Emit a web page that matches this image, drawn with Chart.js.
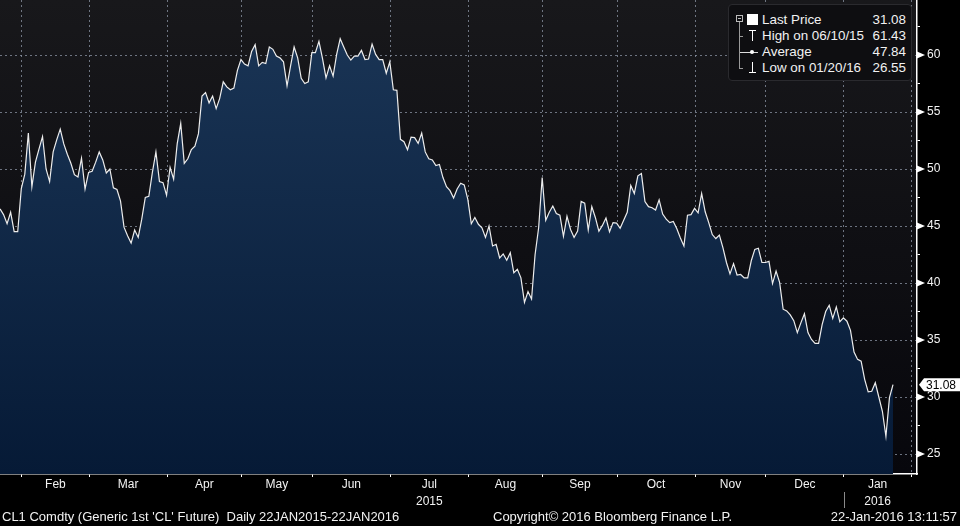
<!DOCTYPE html>
<html lang="en">

<head>
    <meta charset="UTF-8">
    <title>CL1 Comdty</title>
    <script src="https://cdn.jsdelivr.net/npm/chart.js"></script>
    <style>
        body {
            margin: 0;
            background: #000;
        }

        #wrap {
            position: relative;
            width: 960px;
            height: 526px;
            font-family: "Liberation Sans", Arial, sans-serif;
            color: #f2f2f2;
        }

        #legend {
            position: absolute;
            left: 728px;
            top: 4px;
            width: 184px;
            height: 77px;
            background: #0e0e11;
            border: 1px solid #2a2a2e;
            border-radius: 4px;
            box-sizing: border-box;
        }

        .abs {
            position: absolute;
        }

        .row {
            position: absolute;
            left: 762px;
            width: 144px;
            height: 16px;
            line-height: 16px;
            font-size: 13.4px;
            white-space: nowrap;
        }

        .row span {
            position: absolute;
            right: 0;
        }

        .foot {
            position: absolute;
            top: 509px;
            font-size: 13px;
            line-height: 16px;
            white-space: nowrap;
        }
    </style>
</head>

<body>
    <div id="wrap">
        <canvas id="cl1" width="960" height="526"></canvas>

        <div id="legend"></div>
        <!-- tree lines and symbols -->
        <div class="abs" style="left:736px;top:15px;width:5px;height:5px;border:1px solid #bbb;"></div>
        <div class="abs" style="left:738px;top:18px;width:3px;height:1px;background:#bbb;"></div>
        <div class="abs" style="left:739px;top:22px;width:0;height:47px;border-left:1px solid #999;"></div>
        <div class="abs" style="left:739px;top:36px;width:4px;height:1px;background:#999;"></div>
        <div class="abs" style="left:739px;top:68px;width:4px;height:1px;background:#999;"></div>
        <div class="abs" style="left:747px;top:14px;width:11px;height:11px;background:#fff;"></div>
        <div class="abs" style="left:749px;top:30px;width:7px;height:1px;background:#fff;"></div>
        <div class="abs" style="left:752px;top:30px;width:1px;height:11px;background:#fff;"></div>
        <div class="abs" style="left:740px;top:52px;width:18px;height:1px;background:#ddd;"></div>
        <div class="abs" style="left:750px;top:50px;width:4px;height:4px;border-radius:3px;background:#fff;"></div>
        <div class="abs" style="left:752px;top:62px;width:1px;height:11px;background:#fff;"></div>
        <div class="abs" style="left:749px;top:72px;width:7px;height:1px;background:#fff;"></div>

        <div class="row" style="top:12px;">Last Price<span>31.08</span></div>
        <div class="row" style="top:28px;">High on 06/10/15<span>61.43</span></div>
        <div class="row" style="top:44px;">Average<span>47.84</span></div>
        <div class="row" style="top:60px;">Low on 01/20/16<span>26.55</span></div>

        <div class="foot" style="left:2px;">CL1 Comdty (Generic 1st 'CL' Future)&nbsp; Daily 22JAN2015-22JAN2016</div>
        <div class="foot" style="left:493px;">Copyright© 2016 Bloomberg Finance L.P.</div>
        <div class="foot" style="right:3px;">22-Jan-2016 13:11:57</div>
    </div>

    <script>
        // daily closes, one per trading day, 22 Jan 2015 - 22 Jan 2016
        const prices = [
            // Jan 2015
            46.5, 46.0, 45.2, 46.2, 44.5, 44.5, 48.25,
            // Feb
            49.55, 53.15, 48.45, 50.6, 51.75, 52.85, 50.0, 48.9, 51.5, 52.55, 53.5, 52.2, 51.3, 50.5, 49.5, 49.3, 50.95, 48.25, 49.7,
            // Mar
            49.8, 50.6, 51.5, 50.8, 49.65, 50.0, 48.35, 48.2, 47.2, 44.9, 44.15, 43.5, 44.65, 44.0, 45.6, 47.5, 47.6, 49.7, 51.5, 48.9, 48.8, 47.7,
            // Apr
            50.15, 49.1, 52.2, 54.0, 50.5, 50.9, 51.7, 52.0, 53.1, 56.4, 56.7, 55.8, 56.4, 55.3, 56.2, 57.65, 57.2, 56.95, 57.1, 58.65, 59.6,
            // May
            59.2, 59.05, 60.3, 60.9, 59.05, 59.35, 59.25, 60.7, 60.5, 59.9, 59.75, 59.4, 57.3, 59.05, 60.7, 59.75, 57.95, 57.5, 57.65, 60.2,
            // Jun
            60.2, 61.2, 59.7, 58.0, 59.05, 58.15, 60.05, 61.43, 60.7, 60.0, 59.55, 59.9, 59.9, 60.4, 59.6, 59.65, 60.95, 60.05, 59.6, 59.6, 58.4, 59.4,
            // Jul
            56.95, 56.9, 52.6, 52.4, 51.7, 52.8, 52.75, 52.25, 53.15, 51.5, 50.9, 50.8, 50.3, 50.4, 49.25, 48.45, 48.1, 47.45, 48.25, 48.75, 48.6, 47.35,
            // Aug
            45.2, 45.75, 45.15, 44.85, 44.0, 45.0, 43.25, 43.4, 42.2, 42.55, 42.0, 42.65, 40.9, 41.2, 40.45, 38.3, 39.25, 38.6, 42.5, 44.85, 49.25,
            // Sep
            45.5, 46.2, 46.75, 46.1, 45.95, 44.1, 45.85, 44.7, 44.0, 44.55, 47.15, 47.0, 44.65, 46.7, 45.75, 44.55, 45.05, 45.7, 44.5, 45.3, 45.25,
            // Oct
            44.8, 45.5, 46.2, 48.55, 47.85, 49.4, 49.6, 47.15, 46.7, 46.6, 46.4, 47.3, 46.05, 45.6, 45.3, 45.4, 44.75, 43.95, 43.25, 45.95, 46.0, 46.55,
            // Nov
            46.15, 47.85, 46.25, 45.3, 44.25, 43.9, 44.2, 43.1, 41.8, 40.8, 41.7, 40.7, 40.75, 40.45, 40.45, 41.95, 42.95, 43.05, 41.8, 41.8,
            // Dec
            41.9, 39.95, 41.05, 40.05, 37.7, 37.55, 37.2, 36.7, 35.65, 36.5, 37.3, 35.65, 35.05, 34.7, 34.7, 36.35, 37.5, 38.05, 36.9, 37.9, 36.6, 36.95,
            // Jan 2016
            36.65, 35.85, 33.95, 33.3, 33.15, 31.55, 30.45, 30.5, 31.25, 30.0, 28.75, 26.55, 29.95, 31.08
        ];

        // trading-day index where each month starts (Feb 2015 ... Feb 2016)
        const monthStarts = [7, 26, 48, 69, 89, 111, 133, 154, 175, 197, 217, 239, 258];
        const monthLabels = ['Feb', 'Mar', 'Apr', 'May', 'Jun', ['Jul', '2015'], 'Aug', 'Sep', 'Oct', 'Nov', 'Dec', ['Jan', '2016']];
        const yTicks = [25, 27.5, 30, 32.5, 35, 37.5, 40, 42.5, 45, 47.5, 50, 52.5, 55, 57.5, 60, 62.5];
        const lastPrice = 31.08;

        const boundaries = monthStarts.map(d => d - 0.85);
        const mids = monthLabels.map((m, i) => (boundaries[i] + boundaries[i + 1]) / 2);
        const isBoundary = v => boundaries.some(b => Math.abs(b - v) < 0.01);

        const gridColor = 'rgba(140,150,165,0.75)';
        const font = { family: "'Liberation Sans', Arial, sans-serif", size: 12 };

        const decor = {
            id: 'decor',
            beforeDraw(chart) {
                const { ctx, chartArea: a } = chart;
                const g = ctx.createLinearGradient(0, a.top, 0, a.bottom);
                g.addColorStop(0, '#18181b');
                g.addColorStop(1, '#07070c');
                ctx.save();
                ctx.fillStyle = g;
                ctx.fillRect(a.left, a.top, a.right - a.left, a.bottom - a.top);
                ctx.restore();
            },
            afterDraw(chart) {
                const { ctx, chartArea: a } = chart;
                const ys = chart.scales.y, xs = chart.scales.x;
                ctx.save();
                ctx.fillStyle = '#fff';
                // arrow marks at major ticks
                yTicks.filter(v => v % 5 === 0).forEach(v => {
                    const y = ys.getPixelForValue(v);
                    ctx.beginPath();
                    ctx.moveTo(a.right, y - 3.5);
                    ctx.lineTo(a.right + 8, y);
                    ctx.lineTo(a.right, y + 3.5);
                    ctx.closePath();
                    ctx.fill();
                });
                // last price tag
                const py = ys.getPixelForValue(lastPrice);
                ctx.beginPath();
                ctx.moveTo(a.right + 2, py);
                ctx.lineTo(a.right + 7, py - 6.5);
                ctx.lineTo(960, py - 6.5);
                ctx.lineTo(960, py + 6.5);
                ctx.lineTo(a.right + 7, py + 6.5);
                ctx.closePath();
                ctx.fill();
                ctx.fillStyle = '#000';
                ctx.font = "12px 'Liberation Sans', Arial, sans-serif";
                ctx.textBaseline = 'middle';
                ctx.fillText(lastPrice.toFixed(2), a.right + 9, py + 0.5);
                // year separator
                const sx = Math.round(xs.getPixelForValue(boundaries[11])) + 0.5;
                ctx.strokeStyle = '#8a8a8a';
                ctx.lineWidth = 1;
                ctx.beginPath();
                ctx.moveTo(sx, a.bottom + 18);
                ctx.lineTo(sx, a.bottom + 34);
                ctx.stroke();
                ctx.restore();
            }
        };

        new Chart(
            document.getElementById('cl1'),
            {
                type: 'line',
                data: {
                    datasets: [
                        {
                            label: 'Last Price',
                            data: prices.map((p, i) => ({ x: i, y: p })),
                            borderColor: '#ededed',
                            borderWidth: 1.2,
                            pointRadius: 0,
                            tension: 0,
                            fill: 'start',
                            backgroundColor: c => {
                                const a = c.chart.chartArea;
                                if (!a) return '#0c2442';
                                const g = c.chart.ctx.createLinearGradient(0, a.top, 0, a.bottom);
                                g.addColorStop(0, '#1b3657');
                                g.addColorStop(1, '#061a36');
                                return g;
                            }
                        }
                    ]
                },
                options: {
                    responsive: false,
                    animation: false,
                    devicePixelRatio: 1,
                    layout: { padding: { left: 0, top: 0, right: 0, bottom: 16 } },
                    plugins: {
                        legend: { display: false },
                        tooltip: { enabled: false }
                    },
                    scales: {
                        x: {
                            type: 'linear',
                            min: 0,
                            max: 258.77,
                            z: 1,
                            afterBuildTicks: s => {
                                s.ticks = boundaries.concat(mids).sort((p, q) => p - q).map(v => ({ value: v }));
                            },
                            afterFit: s => {
                                s.height = 36;
                                s.paddingLeft = 0;
                                s.paddingRight = 0;
                            },
                            ticks: {
                                autoSkip: false,
                                maxRotation: 0,
                                padding: 0,
                                color: '#f2f2f2',
                                font: { ...font, lineHeight: 1.35 },
                                callback: v => {
                                    const i = mids.findIndex(m => Math.abs(m - v) < 0.01);
                                    return i < 0 ? '' : monthLabels[i];
                                }
                            },
                            grid: {
                                color: c => isBoundary(c.tick.value) ? gridColor : 'transparent',
                                tickColor: c => isBoundary(c.tick.value) ? '#fff' : 'transparent',
                                tickLength: 3
                            },
                            border: { color: '#fff', width: 1.5, dash: [2, 3] }
                        },
                        y: {
                            type: 'linear',
                            position: 'right',
                            min: 23.246,
                            max: 64.825,
                            z: 1,
                            afterBuildTicks: s => { s.ticks = yTicks.map(v => ({ value: v })); },
                            afterFit: s => {
                                s.width = 43;
                                s.paddingTop = 0;
                                s.paddingBottom = 0;
                            },
                            ticks: {
                                padding: 7,
                                color: '#f2f2f2',
                                font: font,
                                callback: v => v % 5 === 0 ? String(v) : ''
                            },
                            grid: {
                                color: c => c.tick.value % 5 === 0 ? gridColor : 'transparent',
                                tickColor: '#fff',
                                tickLength: 3
                            },
                            border: { color: '#fff', width: 1.5, dash: [2, 3] }
                        }
                    }
                },
                plugins: [decor]
            }
        );
    </script>
</body>

</html>
